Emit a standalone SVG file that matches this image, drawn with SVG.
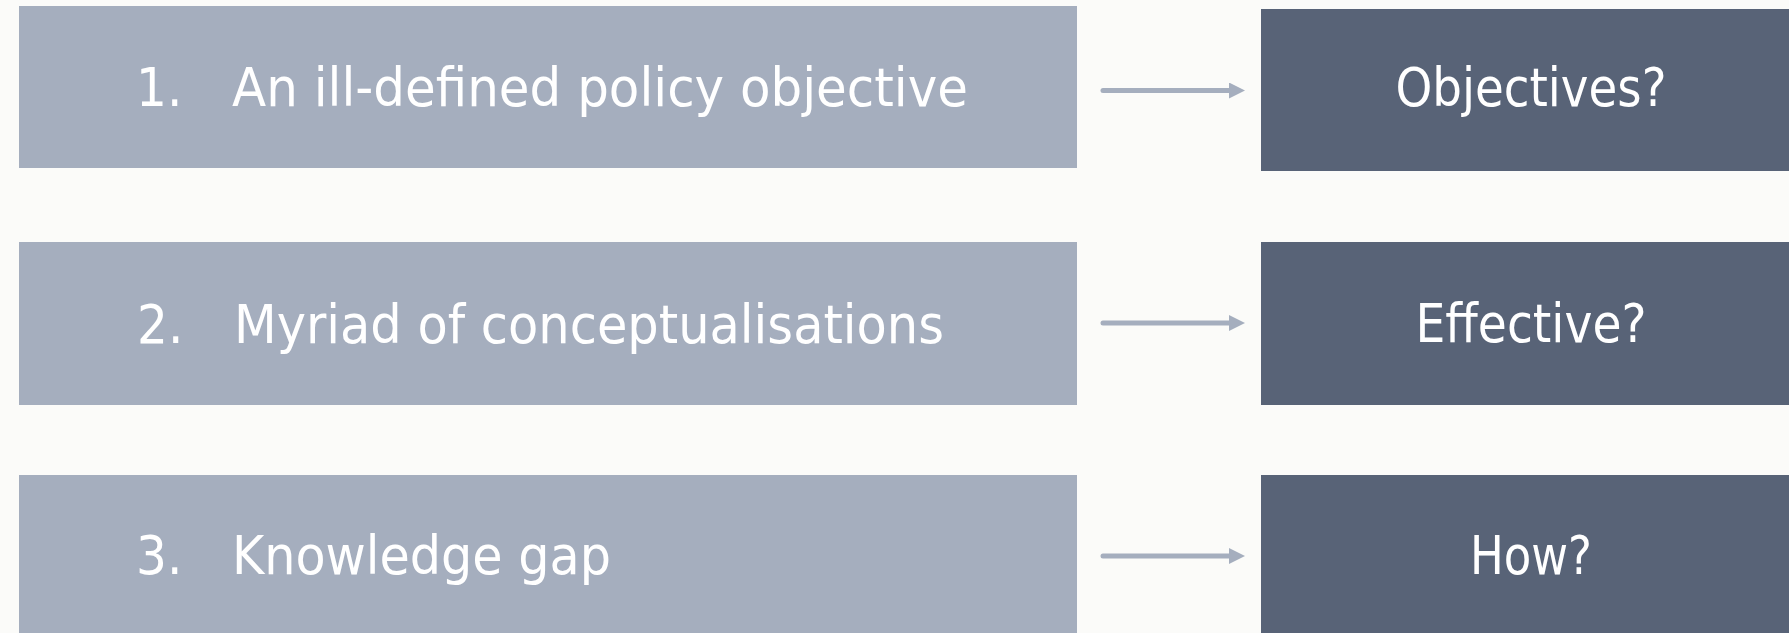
<svg xmlns="http://www.w3.org/2000/svg" width="1789" height="633" viewBox="0 0 1789 633">
<style>
.l{fill:#A5AEBE}
.r{fill:#586377}
.t{fill:#FFFFFF;font-family:"DejaVu Sans Condensed","DejaVu Sans","Liberation Sans",sans-serif;font-size:54px}
.c{text-anchor:middle}
.a{stroke:#A5AEBE;stroke-width:5;stroke-linecap:round;fill:none}
</style>
<defs>
<marker id="ah" markerUnits="userSpaceOnUse" markerWidth="16" markerHeight="16" refX="0" refY="8" orient="auto">
<path d="M0,0 L16,8 L0,16 Z" fill="#A5AEBE"/>
</marker>
</defs>
<rect width="1789" height="633" fill="#FBFBF9"/>
<g id="problem1">
<rect class="l" x="19" y="6" width="1058" height="162"/>
<text class="t" x="136" y="106">1.</text>
<text class="t" x="232" y="106" textLength="736" lengthAdjust="spacingAndGlyphs">An ill-defined policy objective</text>
</g>
<g id="problem2">
<rect class="l" x="19" y="242" width="1058" height="163"/>
<text class="t" x="137" y="343">2.</text>
<text class="t" x="234" y="343" textLength="710" lengthAdjust="spacingAndGlyphs">Myriad of conceptualisations</text>
</g>
<g id="problem3">
<rect class="l" x="19" y="475" width="1058" height="170"/>
<text class="t" x="136" y="574">3.</text>
<text class="t" x="232" y="574" textLength="379" lengthAdjust="spacingAndGlyphs">Knowledge gap</text>
</g>
<g id="question1">
<rect class="r" x="1261" y="9" width="540" height="162"/>
<text class="t c" x="1531" y="106" textLength="271" lengthAdjust="spacingAndGlyphs">Objectives?</text>
</g>
<g id="question2">
<rect class="r" x="1261" y="242" width="540" height="163"/>
<text class="t c" x="1531" y="342" textLength="231" lengthAdjust="spacingAndGlyphs">Effective?</text>
</g>
<g id="question3">
<rect class="r" x="1261" y="475" width="540" height="170"/>
<text class="t c" x="1531" y="574" textLength="122" lengthAdjust="spacingAndGlyphs">How?</text>
</g>
<g id="connectors">
<line class="a" x1="1103" y1="90.5" x2="1229" y2="90.5" marker-end="url(#ah)"/>
<line class="a" x1="1103" y1="323" x2="1229" y2="323" marker-end="url(#ah)"/>
<line class="a" x1="1103" y1="556" x2="1229" y2="556" marker-end="url(#ah)"/>
</g>
</svg>
